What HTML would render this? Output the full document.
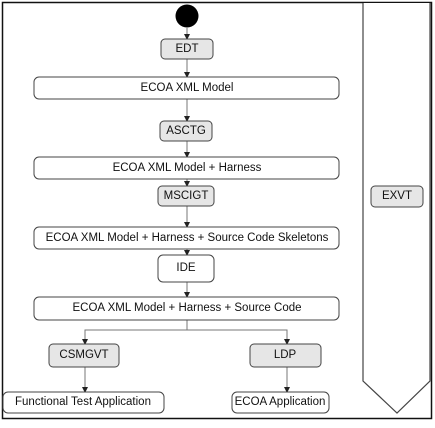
<!DOCTYPE html>
<html><head><meta charset="utf-8"><style>
body{margin:0;background:#fff}
svg text{font-family:"Liberation Sans",sans-serif;font-size:11.5px;fill:#111;text-anchor:middle;dominant-baseline:central}
</style></head><body>
<svg width="435" height="423" viewBox="0 0 435 423" xmlns="http://www.w3.org/2000/svg">
<defs><marker id="a" markerWidth="6" markerHeight="6" refX="5" refY="3" orient="auto" markerUnits="userSpaceOnUse"><path d="M0,0 L6,3 L0,6z" fill="#222"/></marker></defs>
<rect x="2.5" y="2.5" width="429" height="416" fill="#fff" stroke="#111" stroke-width="1.5"/>
<polyline points="363,3 363,381 397,413 430,381 430,3" fill="#fff" stroke="#444" stroke-width="1.2"/>
<circle cx="187" cy="16" r="11.5" fill="#000"/>
<g stroke="#777" stroke-width="1" marker-end="url(#a)" fill="none">
<line x1="187" y1="28" x2="187" y2="39"/>
<line x1="187" y1="59" x2="187" y2="77"/>
<line x1="187" y1="99" x2="187" y2="121"/>
<line x1="187" y1="141" x2="187" y2="157"/>
<line x1="187" y1="179" x2="187" y2="186"/>
<line x1="187" y1="206" x2="187" y2="227"/>
<line x1="187" y1="249" x2="187" y2="255"/>
<line x1="187" y1="282" x2="187" y2="297"/>
<polyline points="187,320 187,330 85,330 85,344" />
<polyline points="187,330 287,330 287,344"/>
<line x1="85" y1="367" x2="85" y2="392"/>
<line x1="287" y1="367" x2="287" y2="392"/>
</g>
<g stroke="#444" stroke-width="1">
<rect x="161" y="39" width="52" height="20" rx="4" fill="#e6e6e6"/>
<rect x="34" y="77" width="305" height="22" rx="5" fill="#fff"/>
<rect x="160" y="121" width="52" height="20" rx="4" fill="#e6e6e6"/>
<rect x="34" y="157" width="305" height="22" rx="5" fill="#fff"/>
<rect x="158" y="186" width="56" height="20" rx="4" fill="#e6e6e6"/>
<rect x="34" y="227" width="305" height="22" rx="5" fill="#fff"/>
<rect x="158" y="255" width="56" height="27" rx="5" fill="#fff"/>
<rect x="34" y="297" width="305" height="23" rx="5" fill="#fff"/>
<rect x="49" y="344" width="70" height="23" rx="4" fill="#e6e6e6"/>
<rect x="250" y="344" width="71" height="23" rx="4" fill="#e6e6e6"/>
<rect x="3" y="392" width="161" height="21" rx="5" fill="#fff"/>
<rect x="232" y="392" width="97" height="21" rx="5" fill="#fff"/>
<rect x="371" y="186" width="52" height="21" rx="4" fill="#e6e6e6"/>
</g>
<text x="187" y="49">EDT</text>
<text x="187" y="88">ECOA XML Model</text>
<text x="186" y="131">ASCTG</text>
<text x="187" y="168">ECOA XML Model + Harness</text>
<text x="186" y="196">MSCIGT</text>
<text x="187" y="238">ECOA XML Model + Harness + Source Code Skeletons</text>
<text x="186" y="268">IDE</text>
<text x="187" y="308">ECOA XML Model + Harness + Source Code</text>
<text x="84" y="355">CSMGVT</text>
<text x="285" y="355">LDP</text>
<text x="83" y="402">Functional Test Application</text>
<text x="280" y="402">ECOA Application</text>
<text x="397" y="196">EXVT</text>
</svg>
</body></html>
